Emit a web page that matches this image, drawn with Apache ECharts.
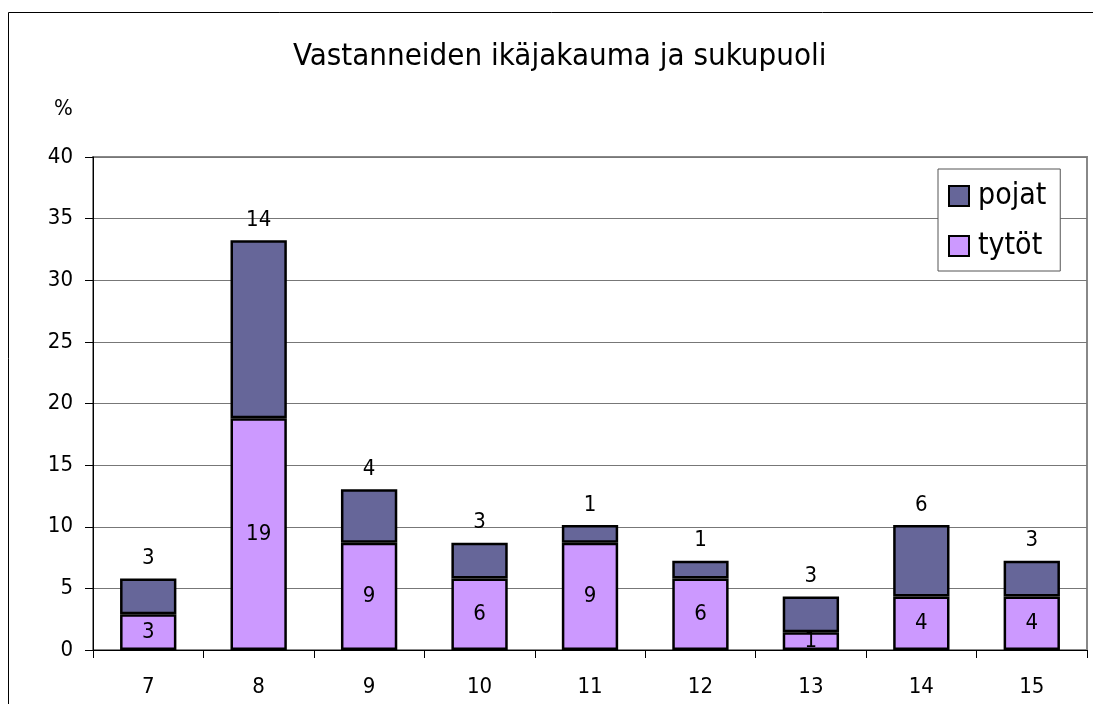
<!DOCTYPE html>
<html>
<head>
<meta charset="utf-8">
<script src="https://cdn.jsdelivr.net/npm/echarts@6/dist/echarts.min.js"></script>
<style>
  html, body { margin: 0; padding: 0; background: #fff; }
  #chart { width: 1093px; height: 704px; }
</style>
</head>
<body>
<div id="chart"></div>
<script>
// ages and shares (%)
const ages = ['7', '8', '9', '10', '11', '12', '13', '14', '15']
const tytot = [2.9, 18.8, 8.7, 5.8, 8.7, 5.8, 1.45, 4.35, 4.35]
const pojat = [2.9, 14.45, 4.35, 2.9, 1.45, 1.45, 2.9, 5.8, 2.9]
const yTicks = [0, 5, 10, 15, 20, 25, 30, 35, 40]

const font = '"DejaVu Sans Condensed", "DejaVu Sans", sans-serif'
const chart = echarts.init(document.getElementById('chart'))

const labelFmt = p => Math.round(p.value)

chart.setOption({
  animation: false,
  title: {
    text: 'Vastanneiden ikäjakauma ja sukupuoli',
    left: 288,
    top: 36,
    textStyle: { fontFamily: font, fontSize: 31, fontWeight: 'normal', color: '#000' }
  },
  graphic: [
    {
      type: 'rect',
      shape: { x: 8.5, y: 12.5, width: 1200, height: 900 },
      style: { fill: 'none', stroke: '#000', lineWidth: 1 }
    },
    {
      type: 'text',
      left: 54,
      top: 98,
      style: { text: '%', fontFamily: font, fontSize: 22, fill: '#000' }
    }
  ],
  legend: {
    data: ['pojat', 'tytöt'],
    orient: 'vertical',
    left: 938,
    top: 169,
    width: 124,
    padding: [12, 14, 10, 10],
    itemGap: 20,
    itemWidth: 20,
    itemHeight: 20,
    icon: 'rect',
    backgroundColor: '#fff',
    borderColor: '#555',
    borderWidth: 1,
    textStyle: { fontFamily: font, fontSize: 30, color: '#000', padding: [0, 0, 0, 4] },
    itemStyle: { borderColor: '#000', borderWidth: 2 }
  },
  grid: {
    left: 93,
    right: 6,
    top: 157,
    bottom: 54,
    show: true,
    borderColor: '#888',
    borderWidth: 2
  },
  xAxis: {
    type: 'category',
    data: ages,
    axisLine: { lineStyle: { color: '#000', width: 1 } },
    axisTick: { show: true, length: 8, lineStyle: { color: '#000' } },
    axisLabel: { fontFamily: font, fontSize: 22, color: '#000', margin: 26 }
  },
  yAxis: {
    type: 'value',
    min: 0,
    max: 40,
    interval: 5,
    axisLine: { show: true, lineStyle: { color: '#000', width: 1 } },
    axisTick: { show: true, length: 8, lineStyle: { color: '#000' } },
    axisLabel: {
      fontFamily: font, fontSize: 22, color: '#000', margin: 20,
      formatter: v => yTicks.includes(v) ? String(v) : ''
    },
    splitLine: { lineStyle: { color: '#777', width: 1 } }
  },
  series: [
    {
      name: 'tytöt',
      type: 'bar',
      stack: 'all',
      data: tytot,
      barWidth: '51%',
      itemStyle: { color: '#cc99ff', borderColor: '#000', borderWidth: 2.5 },
      label: {
        show: true, position: 'inside', formatter: labelFmt,
        fontFamily: font, fontSize: 22, color: '#000'
      }
    },
    {
      name: 'pojat',
      type: 'bar',
      stack: 'all',
      data: pojat,
      barWidth: '51%',
      itemStyle: { color: '#666699', borderColor: '#000', borderWidth: 2.5 },
      label: {
        show: true, position: 'top', distance: 9, formatter: labelFmt,
        fontFamily: font, fontSize: 22, color: '#000'
      }
    }
  ]
})
</script>
</body>
</html>
